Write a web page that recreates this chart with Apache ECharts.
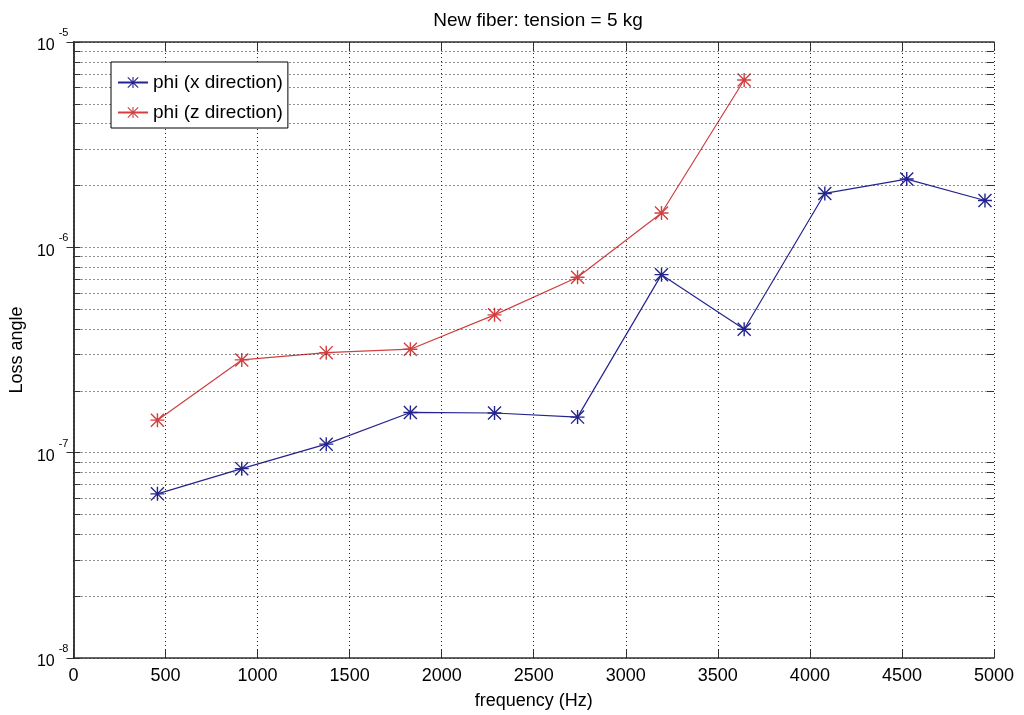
<!DOCTYPE html>
<html>
<head>
<meta charset="utf-8">
<script src="https://cdn.jsdelivr.net/npm/echarts@6/dist/echarts.min.js"></script>
<style>
  html, body { margin: 0; padding: 0; background: #fff; }
  #chart { width: 1024px; height: 715px; }
</style>
</head>
<body>
<div id="chart"></div>
<script>
// Measured loss angle versus mode frequency
const freqHz = [456, 914, 1373, 1830, 2287, 2738, 3194, 3643, 4081, 4526, 4951];
const phiX = [6.3e-8, 8.36e-8, 1.10e-7, 1.57e-7, 1.56e-7, 1.49e-7, 7.36e-7, 3.99e-7, 1.83e-6, 2.15e-6, 1.69e-6];
const phiZ = [1.44e-7, 2.83e-7, 3.07e-7, 3.19e-7, 4.69e-7, 7.15e-7, 1.47e-6, 6.53e-6];
const xTicks = [0, 500, 1000, 1500, 2000, 2500, 3000, 3500, 4000, 4500, 5000];
const decades = [-8, -7, -6, -5];

const FONT = '"Liberation Sans", Arial, sans-serif';
const AXIS_COLOR = '#333';
const BLUE = '#24248f';
const RED = '#d04040';

// asterisk marker: plus + cross, all subpaths wound the same way
const STAR = 'path://M9,0L11,0L11,20L9,20Z M0,9L20,9L20,11L0,11Z ' +
  'M0,1.4L1.4,0L20,18.6L18.6,20Z M18.6,0L20,1.4L1.4,20L0,18.6Z';

// minor log grid values: 2..9 x 10^k
const minorVals = [];
for (let k = -8; k < -5; k++) {
  for (let m = 2; m <= 9; m++) minorVals.push(m * Math.pow(10, k));
}
const majorVals = decades.map(e => Math.pow(10, e));

const dotted = { color: '#222', width: 1, type: [1, 3] };
const solid = { color: AXIS_COLOR, width: 1, type: 'solid' };
const tickLen = 38; // in x units (about 7px)
const xMin = xTicks[0], xMax = xTicks[xTicks.length - 1];

const gridLines = [];
minorVals.concat(majorVals).forEach(v => {
  gridLines.push([{ coord: [xMin, v], lineStyle: dotted }, { coord: [xMax, v] }]);
});
xTicks.forEach(x => {
  gridLines.push([{ coord: [x, majorVals[0]], lineStyle: dotted }, { coord: [x, majorVals[majorVals.length - 1]] }]);
});
minorVals.forEach(v => {
  gridLines.push([{ coord: [xMin, v], lineStyle: solid }, { coord: [xMin + tickLen, v] }]);
  gridLines.push([{ coord: [xMax - tickLen, v], lineStyle: solid }, { coord: [xMax, v] }]);
});

const chart = echarts.init(document.getElementById('chart'), null, { renderer: 'canvas' });

const yLabel = {
  fontFamily: FONT,
  color: '#000',
  margin: 5,
  formatter: v => '{b|10}{s|' + Math.round(Math.log10(v)) + '}',
  rich: {
    b: { fontSize: 16, fontFamily: FONT, color: '#000', padding: [8, 0, 0, 0] },
    s: { fontSize: 11, fontFamily: FONT, color: '#000', verticalAlign: 'top', padding: [0, 0, 18, 4] }
  }
};

chart.setOption({
  animation: false,
  backgroundColor: '#fff',
  title: {
    text: 'New fiber: tension = 5 kg',
    left: 533, top: 6, textAlign: 'center',
    textStyle: { fontFamily: FONT, fontSize: 19, fontWeight: 'normal', color: '#000' }
  },
  legend: {
    data: ['phi (x direction)', 'phi (z direction)'],
    orient: 'vertical',
    left: 111, top: 62,
    z: 20,
    itemWidth: 30, itemHeight: 14, itemGap: 11,
    padding: [11, 5, 6, 6],
    backgroundColor: '#fff',
    borderColor: '#000', borderWidth: 1,
    textStyle: { fontFamily: FONT, fontSize: 19, color: '#000' }
  },
  grid: { left: 73, right: 30, top: 42, bottom: 57, containLabel: false },
  xAxis: [{
    type: 'value', min: xMin, max: xMax, interval: 500,
    name: 'frequency (Hz)', nameLocation: 'middle', nameGap: 34,
    nameTextStyle: { fontFamily: FONT, fontSize: 18, color: '#000' },
    axisLine: { show: true, lineStyle: { color: AXIS_COLOR, width: 1.5 } },
    axisTick: { show: true, inside: true, length: 9, lineStyle: { color: AXIS_COLOR } },
    axisLabel: { fontFamily: FONT, fontSize: 18, color: '#000', margin: 9, formatter: v => String(v) },
    splitLine: { show: false }
  }, {
    type: 'value', min: xMin, max: xMax, interval: 500, position: 'top',
    axisLine: { show: true, lineStyle: { color: AXIS_COLOR, width: 1.5 } },
    axisTick: { show: true, inside: true, length: 9, lineStyle: { color: AXIS_COLOR } },
    axisLabel: { show: false },
    splitLine: { show: false }
  }],
  yAxis: [{
    type: 'log', logBase: 10, min: 1e-8, max: 1e-5, interval: 1,
    name: 'Loss angle', nameLocation: 'middle', nameGap: 41,
    nameTextStyle: { fontFamily: FONT, fontSize: 18, color: '#000' },
    axisLine: { show: true, lineStyle: { color: AXIS_COLOR, width: 1.5 } },
    axisTick: { show: true, inside: true, length: 7, lineStyle: { color: AXIS_COLOR } },
    axisLabel: yLabel,
    splitLine: { show: false },
    minorTick: { show: false }
  }, {
    type: 'log', logBase: 10, min: 1e-8, max: 1e-5, interval: 1, position: 'right',
    axisLine: { show: true, lineStyle: { color: AXIS_COLOR, width: 1.5 } },
    axisTick: { show: true, inside: true, length: 7, lineStyle: { color: AXIS_COLOR } },
    axisLabel: { show: false },
    splitLine: { show: false }
  }],
  series: [{
    name: 'gridlines',
    type: 'line',
    data: [],
    silent: true,
    z: 1,
    markLine: {
      silent: true,
      symbol: ['none', 'none'],
      label: { show: false },
      animation: false,
      data: gridLines
    }
  }, {
    name: 'phi (x direction)',
    type: 'line',
    z: 3,
    data: freqHz.map((f, i) => [f, phiX[i]]),
    symbol: STAR, symbolSize: 14,
    itemStyle: { color: BLUE },
    lineStyle: { color: BLUE, width: 1.2 }
  }, {
    name: 'phi (z direction)',
    type: 'line',
    z: 3,
    data: phiZ.map((v, i) => [freqHz[i], v]),
    symbol: STAR, symbolSize: 14,
    itemStyle: { color: RED },
    lineStyle: { color: RED, width: 1.2 }
  }]
});
</script>
</body>
</html>
